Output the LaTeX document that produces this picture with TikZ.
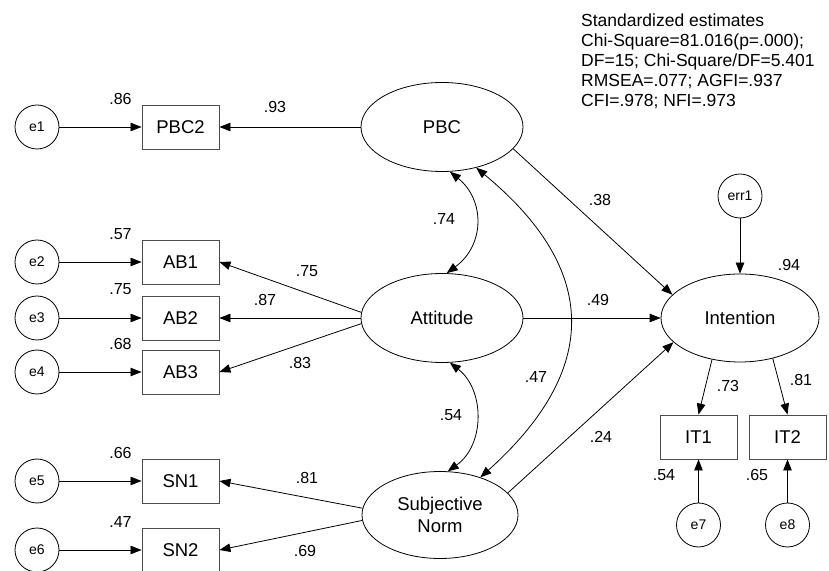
\documentclass[tikz,border=0pt]{standalone}
\usepackage{fontspec}
\setmainfont{Liberation Sans}
\usetikzlibrary{arrows.meta,shapes.geometric}
\begin{document}
\begin{tikzpicture}[x=1pt,y=1pt,
  every node/.style={font=\fontsize{18.5}{22}\selectfont},
  obs/.style={draw=black!70, line width=0.9pt, minimum width=77pt, minimum height=44pt, inner sep=0pt},
  lat/.style={draw, ellipse, line width=0.8pt, minimum width=162pt, minimum height=89pt, inner sep=0pt},
  err/.style={draw, circle, line width=0.8pt, minimum size=44pt, inner sep=0pt, font=\fontsize{14}{16}\selectfont},
  lbl/.style={inner sep=0pt, font=\fontsize{16}{18}\selectfont},
  stat/.style={inner sep=0pt, anchor=base west, font=\fontsize{17.5}{20}\selectfont},
  reg/.style={line width=0.8pt, -{Triangle[length=11pt,width=8.5pt]}},
  covar/.style={line width=0.8pt, {Triangle[length=11pt,width=8.5pt]}-{Triangle[length=11pt,width=8.5pt]}},
]
\useasboundingbox (0,0) rectangle (829,570);

% observed
\node[obs] (PBC2) at (180.5,443) {PBC2};
\node[obs] (AB1) at (180.5,308) {AB1};
\node[obs] (AB2) at (180.5,252) {AB2};
\node[obs] (AB3) at (180.5,198) {AB3};
\node[obs] (SN1) at (180.5,89) {SN1};
\node[obs] (SN2) at (180.5,20) {SN2};
\node[obs] (IT1) at (698.5,133) {IT1};
\node[obs] (IT2) at (787.5,133) {IT2};

% errors
\node[err] (e1) at (37,443) {e1};
\node[err] (e2) at (37,308) {e2};
\node[err] (e3) at (37,252) {e3};
\node[err] (e4) at (37,198) {e4};
\node[err] (e5) at (37,89) {e5};
\node[err] (e6) at (37,20) {e6};
\node[err] (e7) at (698.5,45) {e7};
\node[err] (e8) at (787.5,45) {e8};
\node[err] (err1) at (740,374) {err1};

% latent
\node[lat] (PBC) at (442,443) {PBC};
\node[lat] (Att) at (442,252) {Attitude};
\node[lat, minimum width=156pt, minimum height=87pt, align=center] (SN) at (440,55) {Subjective\\Norm};
\node[lat, minimum width=158pt, minimum height=88pt] (Int) at (740,252) {Intention};

% regressions
\draw[reg] (e1) -- (PBC2);
\draw[reg] (e2) -- (AB1);
\draw[reg] (e3) -- (AB2);
\draw[reg] (e4) -- (AB3);
\draw[reg] (e5) -- (SN1);
\draw[reg] (e6) -- (SN2);
\draw[reg] (e7) -- (IT1);
\draw[reg] (e8) -- (IT2);
\draw[reg] (PBC) -- (PBC2);
\draw[reg] (Att.176) -- (AB1.east);
\draw[reg] (Att) -- (AB2);
\draw[reg] (Att.-176) -- (AB3.east);
\draw[reg] (SN.175) -- (SN1.east);
\draw[reg] (SN.-176) -- (SN2.east);
\draw[reg] (PBC.-17) -- (Int.161);
\draw[reg] (Att) -- (Int);
\draw[reg] (SN.18) -- (Int.200);
\draw[reg] (err1) -- (Int);
\draw[reg] (Int.-124) -- (IT1.north);
\draw[reg] (Int.-51) -- (IT2.north);

% covariances
\draw[covar] (PBC.-80) .. controls (485,370) and (485,325) .. (Att.84);
\draw[covar] (Att.-80) .. controls (485,180) and (485,125) .. (SN.80);
\draw[covar] (PBC.-50) .. controls (600,300) and (600,200) .. (SN.43);

% labels
\node[lbl] (l86) at (120.5,471) {.86};
\node[lbl] (l93) at (275,463) {.93};
\node[lbl] (l57) at (120.5,336) {.57};
\node[lbl] (l75a) at (120.5,281) {.75};
\node[lbl] (l68) at (120.5,226) {.68};
\node[lbl] (l66) at (120.5,117) {.66};
\node[lbl] (l47a) at (120.5,48) {.47};
\node[lbl] (l75b) at (307,299) {.75};
\node[lbl] (l87) at (265,270) {.87};
\node[lbl] (l83) at (300,207) {.83};
\node[lbl] (l81a) at (307,92) {.81};
\node[lbl] (l69) at (305,19) {.69};
\node[lbl] (l74) at (444,351) {.74};
\node[lbl] (l54) at (451,155) {.54};
\node[lbl] (l47) at (536,193) {.47};
\node[lbl] (l38) at (600,370) {.38};
\node[lbl] (l49) at (598,270) {.49};
\node[lbl] (l24) at (601,133) {.24};
\node[lbl] (l94) at (789,305) {.94};
\node[lbl] (l73) at (728,184) {.73};
\node[lbl] (l81b) at (801,190) {.81};
\node[lbl] (l54b) at (664,95) {.54};
\node[lbl] (l65) at (757,95) {.65};

% stats
\node[stat] (s1) at (581,543.5) {Standardized estimates};
\node[stat] (s2) at (581,523.5) {Chi-Square=81.016(p=.000);};
\node[stat] (s3) at (581,503.5) {DF=15; Chi-Square/DF=5.401};
\node[stat] (s4) at (581,483.5) {RMSEA=.077; AGFI=.937};
\node[stat] (s5) at (581,463.5) {CFI=.978; NFI=.973};
\end{tikzpicture}
\end{document}
